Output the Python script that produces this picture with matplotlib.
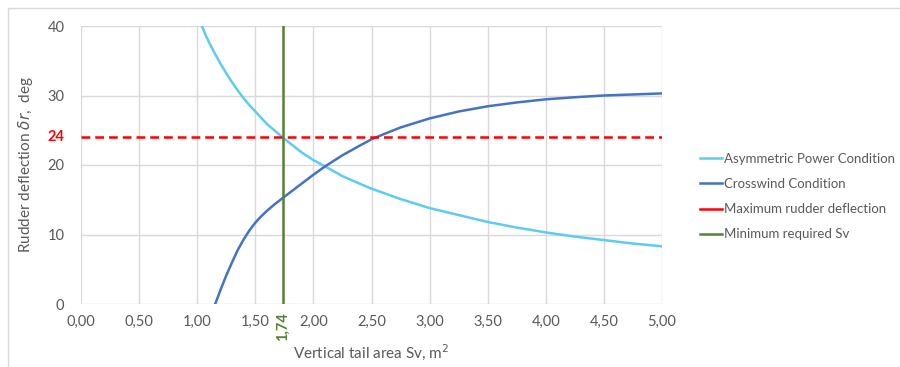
import numpy as np
import matplotlib.pyplot as plt
from matplotlib.patches import Rectangle

plt.rcParams['font.family'] = ['Lato', 'DejaVu Sans']

# Asymmetric power condition: rudder deflection vs tail area
sv_asym = [1.04, 1.07, 1.10, 1.15, 1.20, 1.25, 1.30, 1.35, 1.40, 1.45, 1.50, 1.60,
           1.74, 1.90, 2.00, 2.10, 2.25, 2.40, 2.50, 2.75, 3.00, 3.25, 3.50, 3.75,
           4.00, 4.25, 4.50, 4.75, 5.00]
dr_asym = [40.0, 38.8, 37.7, 36.1, 34.6, 33.2, 31.9, 30.7, 29.6, 28.6, 27.7, 25.9,
           23.9, 21.8, 20.7, 19.8, 18.4, 17.3, 16.6, 15.1, 13.8, 12.8, 11.8, 11.0,
           10.3, 9.7, 9.2, 8.7, 8.3]

# Crosswind condition
sv_cross = [1.155, 1.20, 1.25, 1.30, 1.35, 1.40, 1.45, 1.50, 1.55, 1.60, 1.67, 1.74,
            1.85, 2.00, 2.10, 2.25, 2.40, 2.50, 2.60, 2.75, 3.00, 3.25, 3.50, 3.75,
            4.00, 4.25, 4.50, 4.75, 5.00]
dr_cross = [0.0, 2.0, 4.1, 6.0, 7.8, 9.3, 10.6, 11.7, 12.6, 13.4, 14.4, 15.3,
            16.7, 18.6, 19.8, 21.4, 22.8, 23.7, 24.4, 25.4, 26.7, 27.7, 28.45, 29.0,
            29.45, 29.75, 30.0, 30.15, 30.3]

max_deflection = 24
min_sv = 1.74

x_ticks = [0, 0.5, 1.0, 1.5, 2.0, 2.5, 3.0, 3.5, 4.0, 4.5, 5.0]
y_ticks = [0, 10, 20, 30, 40]

text_col = '#595959'
grid_col = '#d9d9d9'

fig = plt.figure(figsize=(9, 3.67), dpi=100)
fig.patches.append(Rectangle((8 / 900, -0.01), 900 / 900, 1 - 8 / 367 + 0.01,
                             transform=fig.transFigure, fill=False,
                             edgecolor='#d9d9d9', linewidth=1))
ax = fig.add_axes([81 / 900, 63 / 367, 581 / 900, 278 / 367])

ax.plot(sv_asym, dr_asym, color='#5ecbf0', lw=1.8, label='Asymmetric Power Condition',
        zorder=3, solid_joinstyle='round')
ax.plot(sv_cross, dr_cross, color='#4472c4', lw=1.8, label='Crosswind Condition',
        zorder=3, solid_joinstyle='round')
ax.axhline(max_deflection, color='#ff0000', lw=1.8, ls=(0, (3.5, 2)), zorder=4)
ax.plot([], [], color='#ff0000', lw=1.8, label='Maximum rudder deflection')
ax.axvline(min_sv, color='#548235', lw=1.8, zorder=4, label='Minimum required Sv')

ax.set_xlim(0, 5)
ax.set_ylim(0, 40)
ax.set_xticks(x_ticks)
ax.set_xticklabels([f'{v:.2f}'.replace('.', ',') for v in x_ticks])
ax.set_yticks(y_ticks)
ax.grid(True, color=grid_col, lw=1)
for s in ax.spines.values():
    s.set_visible(False)
ax.tick_params(length=0, colors=text_col, labelsize=10.5, pad=8)
ax.tick_params(axis='y', pad=12)

# highlighted values on the axes
ax.text(-0.028, max_deflection, str(max_deflection), transform=ax.get_yaxis_transform(),
        ha='right', va='center', color='#ff0000', fontsize=10.5, fontweight='bold')
ax.text(min_sv, -0.03, f'{min_sv:.2f}'.replace('.', ','), transform=ax.get_xaxis_transform(),
        ha='center', va='top', rotation=90, color='#548235', fontsize=10.5, fontweight='bold')

ax.set_xlabel('Vertical tail area Sv, m$^2$', color=text_col, fontsize=11, labelpad=9)
ax.set_ylabel(r'Rudder deflection $\delta r$,  deg', color=text_col, fontsize=11, labelpad=9)

fig.legend(loc='upper left', bbox_to_anchor=(688 / 900, 1 - 141 / 367), frameon=False,
           fontsize=9.5, handlelength=1.7, handletextpad=0.1, labelspacing=1.0,
           labelcolor=text_col)

fig.savefig('out.png', dpi=100)
